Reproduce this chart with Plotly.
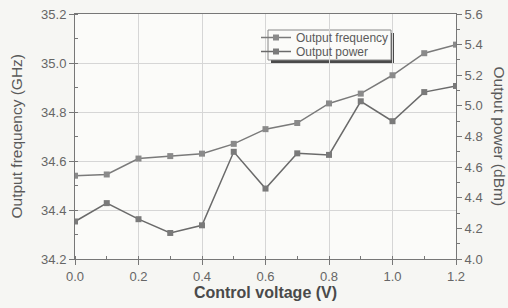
import plotly.graph_objects as go

voltage = [0.0, 0.1, 0.2, 0.3, 0.4, 0.5, 0.6, 0.7, 0.8, 0.9, 1.0, 1.1, 1.2]
frequency_ghz = [34.54, 34.545, 34.61, 34.62, 34.63, 34.67, 34.73, 34.755, 34.835, 34.875, 34.95, 35.04, 35.075]
power_dbm = [4.245, 4.365, 4.26, 4.17, 4.22, 4.70, 4.46, 4.69, 4.68, 5.03, 4.90, 5.09, 5.13]

x_ticks = [0.0, 0.2, 0.4, 0.6, 0.8, 1.0, 1.2]
y1_ticks = [34.2, 34.4, 34.6, 34.8, 35.0, 35.2]
y2_ticks = [4.0, 4.2, 4.4, 4.6, 4.8, 5.0, 5.2, 5.4, 5.6]

line_col = "#7a7a7a"
txt_col = "#5a5a5a"
font = "Liberation Sans, Arial, sans-serif"

# plot-area pixel frame: left 75, right 456, top 14, bottom 259
def px(x):
    return (x - 75) / 381

def py(y):
    return (259 - y) / 245

fig = go.Figure()
fig.add_trace(go.Scatter(
    x=voltage, y=frequency_ghz, name="Output frequency", mode="lines+markers",
    line=dict(color=line_col, width=1.5),
    marker=dict(symbol="square", size=6, color="#8a8a8a"),
    legend="legend",
))
fig.add_trace(go.Scatter(
    x=voltage, y=power_dbm, name="Output power", mode="lines+markers", yaxis="y2",
    line=dict(color="#6a6a6a", width=1.5),
    marker=dict(symbol="square", size=6, color="#7a7a7a"),
    legend="legend2",
))

axis_common = dict(
    showline=True, linecolor="#777777", linewidth=1,
    gridcolor="#d6d6d6", gridwidth=1, zeroline=False,
    ticks="outside", ticklen=5, tickcolor="#777777",
    tickfont=dict(family=font, size=13, color="#666666"),
    automargin=False,
)

legend_common = dict(
    xanchor="left", yanchor="middle",
    bgcolor="rgba(0,0,0,0)", borderwidth=0,
    font=dict(family=font, size=12, color="#5a5a5a"),
    itemwidth=30, tracegroupgap=0,
)

fig.update_layout(
    width=508, height=308,
    margin=dict(l=75, r=52, t=14, b=49),
    paper_bgcolor="#f6f6f3", plot_bgcolor="#fbfbf9",
    font=dict(family=font, color=txt_col),
    showlegend=True,
    legend=dict(x=px(256), y=py(37.5), **legend_common),
    legend2=dict(x=px(256), y=py(51.5), **legend_common),
    shapes=[
        dict(type="rect", xref="paper", yref="paper",
             x0=px(271), x1=px(394), y0=py(63), y1=py(33),
             fillcolor="#4a4a4a", line=dict(width=0), layer="below"),
        dict(type="rect", xref="paper", yref="paper",
             x0=px(268), x1=px(391), y0=py(60), y1=py(30),
             fillcolor="#fbfbf9", line=dict(width=1, color="#888888"), layer="below"),
    ],
    xaxis=dict(
        range=[0, 1.2], tickvals=x_ticks, ticktext=[f"{v:.1f}" for v in x_ticks],
        mirror=True,
        minor=dict(dtick=0.1, ticks="inside", ticklen=3, tickcolor="#777777", showgrid=False),
        title=dict(text="<b>Control voltage (V)</b>", font=dict(family=font, size=16, color="#4a4a4a"), standoff=3),
        **axis_common,
    ),
    yaxis=dict(
        range=[34.2, 35.2], tickvals=y1_ticks, ticktext=[f"{v:.1f}" for v in y1_ticks],
        minor=dict(dtick=0.1, ticks="inside", ticklen=3, tickcolor="#777777", showgrid=False),
        **axis_common,
    ),
    yaxis2=dict(
        range=[4.0, 5.6], tickvals=y2_ticks, ticktext=[f"{v:.1f}" for v in y2_ticks],
        overlaying="y", side="right", showgrid=False,
        minor=dict(dtick=0.1, ticks="outside", ticklen=3, tickcolor="#777777", showgrid=False),
        **{k: v for k, v in axis_common.items() if k not in ("gridcolor", "gridwidth")},
    ),
    annotations=[
        dict(text="Output frequency (GHz)", textangle=-90, xref="paper", yref="paper",
             x=px(16), y=0.5, xanchor="center", yanchor="middle", showarrow=False,
             font=dict(family=font, size=15.5, color=txt_col)),
        dict(text="Output power (dBm)", textangle=90, xref="paper", yref="paper",
             x=px(499), y=0.5, xanchor="center", yanchor="middle", showarrow=False,
             font=dict(family=font, size=15.5, color=txt_col)),
    ],
)

fig.write_html(
    "out.html",
    config={"displayModeBar": False},
    post_script="document.body.style.margin='0';document.body.style.background='#f6f6f3';",
)
